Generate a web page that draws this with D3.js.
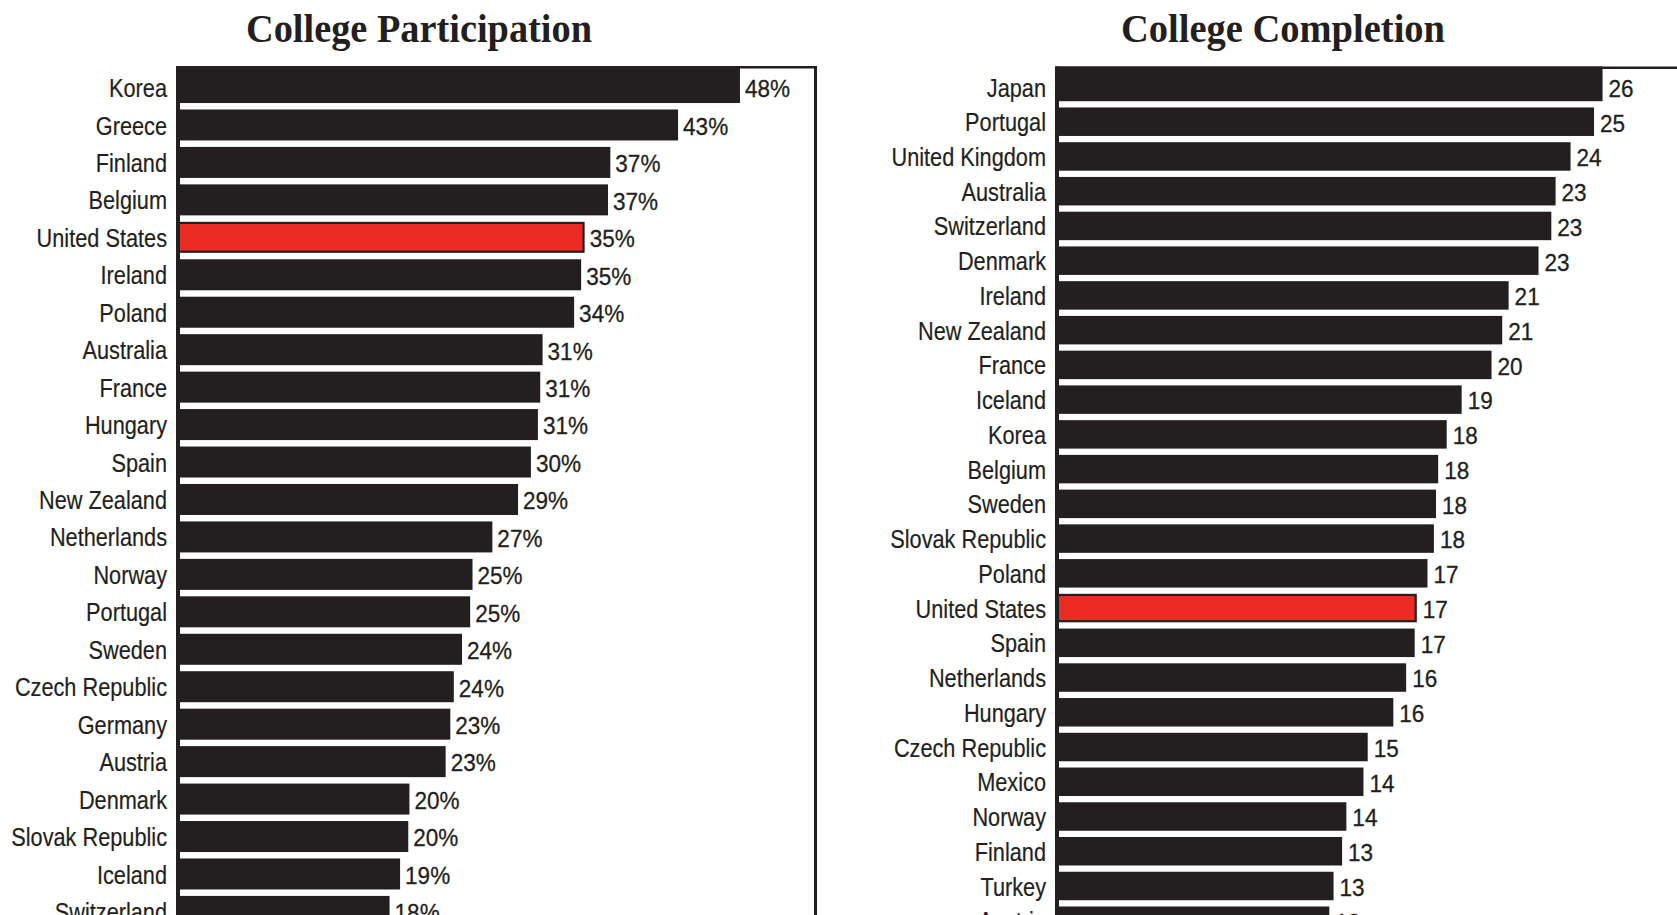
<!DOCTYPE html>
<html>
<head>
<meta charset="utf-8">
<script src="https://cdn.jsdelivr.net/npm/d3@7"></script>
<style>
  html, body { margin: 0; padding: 0; background: #ffffff; }
  svg { display: block; }
</style>
</head>
<body>
<svg id="chart" width="1677" height="915"></svg>
<script>
// ---------------- DATA ----------------
const participationTitle = "College Participation";
const participationCountries = [
  "Korea", "Greece", "Finland", "Belgium", "United States", "Ireland", "Poland",
  "Australia", "France", "Hungary", "Spain", "New Zealand", "Netherlands", "Norway",
  "Portugal", "Sweden", "Czech Republic", "Germany", "Austria", "Denmark",
  "Slovak Republic", "Iceland", "Switzerland"
];
const participationValues = [
  48.2, 42.9, 37.1, 36.9, 34.9, 34.6, 34.0,
  31.3, 31.1, 30.9, 30.3, 29.2, 27.0, 25.3,
  25.1, 24.4, 23.7, 23.4, 23.0, 19.9,
  19.8, 19.1, 18.2
];
const participationLabels = [
  48, 43, 37, 37, 35, 35, 34,
  31, 31, 31, 30, 29, 27, 25,
  25, 24, 24, 23, 23, 20,
  20, 19, 18
];

const completionTitle = "College Completion";
const completionCountries = [
  "Japan", "Portugal", "United Kingdom", "Australia", "Switzerland", "Denmark",
  "Ireland", "New Zealand", "France", "Iceland", "Korea", "Belgium", "Sweden",
  "Slovak Republic", "Poland", "United States", "Spain", "Netherlands", "Hungary",
  "Czech Republic", "Mexico", "Norway", "Finland", "Turkey", "Austria"
];
const completionValues = [
  25.6, 25.2, 24.1, 23.4, 23.2, 22.6,
  21.2, 20.9, 20.4, 19.0, 18.3, 17.9, 17.8,
  17.7, 17.4, 16.9, 16.8, 16.4, 15.8,
  14.6, 14.4, 13.6, 13.4, 13.0, 12.8
];
const completionLabels = [
  26, 25, 24, 23, 23, 23,
  21, 21, 20, 19, 18, 18, 18,
  18, 17, 17, 17, 16, 16,
  15, 14, 14, 13, 13, 13
];

const highlightCountry = "United States";

// ---------------- STYLE ----------------
const INK = "#231f20";
const RED = "#ec2b25";
const LABEL_FONT = "'Liberation Sans', Arial, sans-serif";
const TITLE_FONT = "'Liberation Serif', 'Times New Roman', serif";

const svg = d3.select("#chart");

function drawPanel(cfg) {
  const g = svg.append("g");

  const x = d3.scaleLinear().domain(cfg.xDomain).range(cfg.xRange);
  const y = d3.scaleBand()
    .domain(cfg.countries)
    .range(cfg.yRange)
    .paddingInner(cfg.padInner)
    .paddingOuter(cfg.padInner / 2);

  const rows = cfg.countries.map((c, i) => ({
    country: c, value: cfg.values[i], label: cfg.labels[i], index: i
  }));

  const x0 = x(0);
  const isHi = d => d.country === highlightCountry;

  // Bars
  g.selectAll("rect.bar")
    .data(rows)
    .join("rect")
    .attr("class", "bar")
    .attr("x", d => isHi(d) ? x0 + 1.1 : x0)
    .attr("y", d => isHi(d) ? y(d.country) + 1.1 : (d.index === 0 ? cfg.frameTop : y(d.country)))
    .attr("width", d => x(d.value) - x0 - (isHi(d) ? 2.2 : 0))
    .attr("height", d => isHi(d) ? y.bandwidth() - 2.2
      : (d.index === 0 ? (y(d.country) + y.bandwidth() - cfg.frameTop) : y.bandwidth()))
    .attr("fill", d => isHi(d) ? RED : INK)
    .attr("stroke", d => isHi(d) ? INK : "none")
    .attr("stroke-width", 2.2);

  // Value labels (horizontally condensed sans)
  g.selectAll("text.value")
    .data(rows)
    .join("text")
    .attr("class", "value")
    .attr("transform", d =>
      `translate(${x(d.value) + cfg.valueGap},${y(d.country) + y.bandwidth() / 2 + 1}) scale(0.92,1)`)
    .attr("dy", "0.36em")
    .attr("font-family", LABEL_FONT)
    .attr("font-size", 24.5)
    .attr("fill", INK)
    .attr("stroke", INK)
    .attr("stroke-width", 0.3)
    .text(d => d.label + cfg.suffix);

  // Category labels (horizontally condensed sans)
  g.selectAll("text.cat")
    .data(rows)
    .join("text")
    .attr("class", "cat")
    .attr("transform", d =>
      `translate(${x0 - 10},${y(d.country) + y.bandwidth() / 2}) scale(0.82,1)`)
    .attr("dy", "0.36em")
    .attr("text-anchor", "end")
    .attr("font-family", LABEL_FONT)
    .attr("font-size", 26.5)
    .attr("fill", INK)
    .attr("stroke", INK)
    .attr("stroke-width", 0.2)
    .text(d => d.country);

  // Frame: top line
  g.append("line")
    .attr("x1", x0 - 1).attr("x2", cfg.frameRight)
    .attr("y1", cfg.frameTop + 1.2).attr("y2", cfg.frameTop + 1.2)
    .attr("stroke", INK).attr("stroke-width", 2.4);
  // Frame: left axis line
  g.append("line")
    .attr("x1", x0 + 1).attr("x2", x0 + 1)
    .attr("y1", cfg.frameTop).attr("y2", 960)
    .attr("stroke", INK).attr("stroke-width", 4);
  // Frame: right line
  if (cfg.drawRight) {
    g.append("line")
      .attr("x1", cfg.frameRight - 1.5).attr("x2", cfg.frameRight - 1.5)
      .attr("y1", cfg.frameTop).attr("y2", 960)
      .attr("stroke", INK).attr("stroke-width", 3);
  }

  // Title
  g.append("text")
    .attr("x", cfg.titleX)
    .attr("y", 42)
    .attr("text-anchor", "middle")
    .attr("font-family", TITLE_FONT)
    .attr("font-weight", "bold")
    .attr("font-size", 40)
    .attr("textLength", cfg.titleWidth)
    .attr("lengthAdjust", "spacingAndGlyphs")
    .attr("fill", INK)
    .text(cfg.title);
}

drawPanel({
  title: participationTitle,
  titleX: 419, titleWidth: 346,
  countries: participationCountries,
  values: participationValues,
  labels: participationLabels,
  suffix: "%",
  xDomain: [0, 50], xRange: [177, 177 + 50 * 11.68],
  yRange: [68.8, 68.8 + participationCountries.length * 37.45],
  padInner: 0.172,
  frameTop: 66, frameRight: 817, drawRight: true,
  valueGap: 5
});

drawPanel({
  title: completionTitle,
  titleX: 1283, titleWidth: 324,
  countries: completionCountries,
  values: completionValues,
  labels: completionLabels,
  suffix: "",
  xDomain: [0, 30], xRange: [1056, 1056 + 30 * 21.35],
  yRange: [69.6, 69.6 + completionCountries.length * 34.74],
  padInner: 0.18,
  frameTop: 66.5, frameRight: 1700, drawRight: false,
  valueGap: 6
});
</script>
</body>
</html>
